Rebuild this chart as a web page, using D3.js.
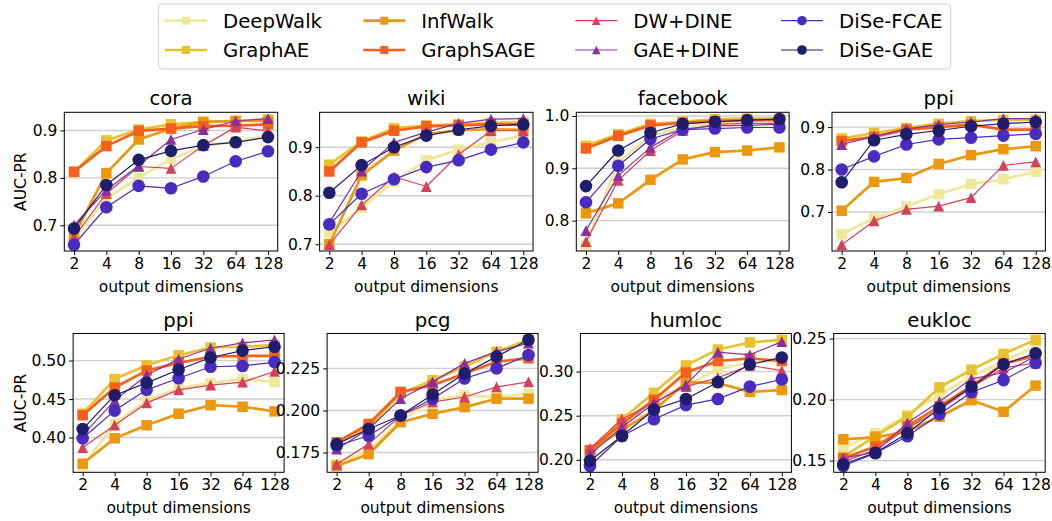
<!DOCTYPE html>
<html><head><meta charset="utf-8">
<script src="https://cdn.jsdelivr.net/npm/d3@7"></script>
<style>
body{margin:0;background:#fff}
svg{display:block;font-family:"DejaVu Sans",sans-serif}
</style>
</head><body>
<svg id="chart" width="1052" height="521"></svg>
<script>
// ---------------- data ----------------
const dims = ["2","4","8","16","32","64","128"];
const methods = ["DeepWalk","GraphAE","InfWalk","GraphSAGE","DW+DINE","GAE+DINE","DiSe-FCAE","DiSe-GAE"];
const titles = ["cora","wiki","facebook","ppi","ppi","pcg","humloc","eukloc"];

// each dataset: one row per method (same order as `methods`), one value per dim
const cora = [
  [0.670,0.757,0.800,0.840,0.867,0.877,0.889],
  [0.812,0.879,0.902,0.913,0.918,0.920,0.923],
  [0.678,0.810,0.881,0.904,0.918,0.920,0.920],
  [0.813,0.867,0.899,0.904,0.909,0.910,0.913],
  [0.675,0.767,0.824,0.820,0.868,0.907,0.899],
  [0.700,0.774,0.826,0.881,0.902,0.920,0.925],
  [0.659,0.738,0.783,0.778,0.803,0.835,0.856],
  [0.693,0.785,0.838,0.857,0.869,0.875,0.886]
];
const wiki = [
  [0.724,0.775,0.829,0.873,0.895,0.910,0.925],
  [0.864,0.912,0.939,0.945,0.947,0.950,0.951],
  [0.700,0.842,0.893,0.927,0.935,0.937,0.936],
  [0.850,0.910,0.934,0.943,0.945,0.947,0.947],
  [0.699,0.781,0.839,0.819,0.885,0.934,0.934],
  [0.744,0.851,0.910,0.931,0.949,0.958,0.959],
  [0.741,0.804,0.834,0.859,0.873,0.895,0.910],
  [0.806,0.863,0.900,0.924,0.936,0.944,0.947]
];
const facebook = [
  [0.754,0.912,0.962,0.978,0.987,0.990,0.992],
  [0.943,0.965,0.985,0.989,0.994,0.995,0.995],
  [0.814,0.833,0.878,0.917,0.931,0.934,0.940],
  [0.938,0.962,0.982,0.987,0.990,0.992,0.992],
  [0.760,0.877,0.934,0.972,0.984,0.986,0.986],
  [0.781,0.886,0.940,0.975,0.981,0.982,0.984],
  [0.835,0.905,0.956,0.974,0.976,0.978,0.978],
  [0.866,0.934,0.968,0.985,0.989,0.992,0.994]
];
const ppi = [
  [0.648,0.685,0.713,0.742,0.766,0.777,0.795],
  [0.873,0.886,0.898,0.908,0.914,0.917,0.917],
  [0.703,0.771,0.780,0.813,0.834,0.848,0.855],
  [0.867,0.877,0.894,0.900,0.906,0.894,0.894],
  [0.623,0.679,0.706,0.714,0.734,0.810,0.818],
  [0.859,0.878,0.896,0.906,0.912,0.920,0.920],
  [0.800,0.831,0.859,0.871,0.875,0.880,0.884],
  [0.770,0.869,0.883,0.892,0.902,0.908,0.912]
];
const ppi2 = [
  [0.363,0.418,0.448,0.464,0.471,0.476,0.472],
  [0.431,0.476,0.494,0.507,0.517,0.518,0.520],
  [0.366,0.399,0.416,0.431,0.442,0.440,0.434],
  [0.429,0.465,0.487,0.497,0.505,0.506,0.506],
  [0.387,0.416,0.445,0.462,0.468,0.472,0.486],
  [0.403,0.448,0.481,0.502,0.516,0.523,0.527],
  [0.399,0.435,0.462,0.477,0.492,0.493,0.498],
  [0.411,0.455,0.471,0.488,0.504,0.513,0.518]
];
const pcg = [
  [0.168,0.176,0.194,0.206,0.209,0.208,0.210],
  [0.181,0.190,0.210,0.218,0.226,0.235,0.242],
  [0.167,0.174,0.193,0.198,0.202,0.207,0.207],
  [0.181,0.192,0.211,0.215,0.222,0.229,0.231],
  [0.168,0.180,0.197,0.205,0.208,0.214,0.217],
  [0.177,0.189,0.207,0.217,0.228,0.235,0.240],
  [0.179,0.185,0.197,0.207,0.219,0.225,0.233],
  [0.180,0.189,0.197,0.2095,0.222,0.232,0.242]
];
const humloc = [
  [0.207,0.239,0.269,0.284,0.303,0.310,0.313],
  [0.210,0.246,0.276,0.307,0.325,0.333,0.336],
  [0.210,0.234,0.256,0.288,0.287,0.277,0.279],
  [0.211,0.241,0.268,0.299,0.312,0.315,0.312],
  [0.213,0.246,0.265,0.283,0.293,0.307,0.301],
  [0.206,0.237,0.264,0.285,0.322,0.319,0.334],
  [0.193,0.227,0.246,0.262,0.269,0.283,0.291],
  [0.199,0.227,0.257,0.269,0.288,0.308,0.316]
];
const eukloc = [
  [0.1605,0.1725,0.1875,0.204,0.219,0.2315,0.2435],
  [0.153,0.170,0.186,0.210,0.2245,0.2375,0.249],
  [0.1675,0.169,0.174,0.186,0.1995,0.190,0.2115],
  [0.152,0.1615,0.178,0.1945,0.211,0.2295,0.236],
  [0.149,0.159,0.1765,0.1915,0.210,0.226,0.230],
  [0.152,0.157,0.181,0.1985,0.217,0.222,0.2355],
  [0.1456,0.156,0.170,0.188,0.206,0.216,0.230],
  [0.147,0.1565,0.1725,0.193,0.2105,0.229,0.238]
];
const datasets = [cora, wiki, facebook, ppi, ppi2, pcg, humloc, eukloc];

// y tick values per panel
const yTicksCora = [0.7,0.8,0.9];
const yTicksWiki = [0.7,0.8,0.9];
const yTicksFacebook = [0.8,0.9,1.0];
const yTicksPpi = [0.7,0.8,0.9];
const yTicksPpi2 = [0.40,0.45,0.50];
const yTicksPcg = [0.175,0.200,0.225];
const yTicksHumloc = [0.20,0.25,0.30];
const yTicksEukloc = [0.15,0.20,0.25];
const yTicks = [yTicksCora,yTicksWiki,yTicksFacebook,yTicksPpi,yTicksPpi2,yTicksPcg,yTicksHumloc,yTicksEukloc];
const yFormats = [".1f",".1f",".1f",".1f",".2f",".3f",".2f",".2f"];

// ---------------- style / layout ----------------
const colors = ["#eee89a","#e8c131","#eb980f","#f6601c","#d7405b","#8a2f9c","#4a2bbf","#1f1d6d"];
const shapes = ["square","square","square","square","triangle","triangle","circle","circle"];
const lineW = [2.7,2.7,2.7,2.7,1.2,1.2,1.2,1.2];

const panels = [
  {l:64.3, t:112.3, w:213.4, h:138.7},
  {l:319.6,t:112.3, w:213.4, h:138.7},
  {l:576.3,t:112.3, w:212.8, h:138.7},
  {l:832.0,t:112.3, w:213.4, h:138.7},
  {l:73.1, t:333.5, w:211.0, h:138.8},
  {l:327.1,t:333.5, w:211.0, h:138.8},
  {l:580.4,t:333.5, w:211.0, h:138.8},
  {l:833.7,t:333.5, w:211.5, h:138.8}
];
const FS = 15.5;

const svg = d3.select("#chart");

function markerPath(shape, s) {
  if (shape === "square") return `M${-s/2},${-s/2}h${s}v${s}h${-s}Z`;
  if (shape === "triangle") return `M0,${-s}L${s},${s}L${-s},${s}Z`;
  return d3.symbol(d3.symbolCircle, Math.PI*s*s)();
}
const mSize = {square:10.5, triangle:5.4, circle:6.3};
const lSize = {square:8, triangle:4.3, circle:4.8};

panels.forEach((p, k) => {
  const data = datasets[k];
  const all = data.flat();
  const mn = d3.min(all), mx = d3.max(all), pad = (mx - mn) * 0.05;
  const x = d3.scalePoint().domain(dims).range([p.l, p.l + p.w]).padding(0.3);
  const y = d3.scaleLinear().domain([mn - pad, mx + pad]).range([p.t + p.h, p.t]);
  const g = svg.append("g");

  // grid
  g.selectAll(".grid").data(yTicks[k]).join("line")
    .attr("x1", p.l).attr("x2", p.l + p.w)
    .attr("y1", d => y(d)).attr("y2", d => y(d))
    .attr("stroke", "#cfcfcf").attr("stroke-width", 1.4);

  const clipId = "clip" + k;
  svg.append("clipPath").attr("id", clipId).append("rect")
    .attr("x", p.l - 10).attr("y", p.t).attr("width", p.w + 20).attr("height", p.h);

  const line = d3.line().x((d, i) => x(dims[i])).y(d => y(d));
  const sg = g.append("g");
  data.forEach((vals, m) => {
    const s = sg.append("g");
    s.append("path").attr("d", line(vals)).attr("fill", "none")
      .attr("stroke", colors[m]).attr("stroke-width", lineW[m]).attr("stroke-linejoin", "round");
    s.selectAll("path.mk").data(vals).join("path").attr("class", "mk")
      .attr("transform", (d, i) => `translate(${x(dims[i])},${y(d)})`)
      .attr("d", markerPath(shapes[m], mSize[shapes[m]]))
      .attr("fill", colors[m]);
  });

  // frame
  g.append("rect").attr("x", p.l).attr("y", p.t).attr("width", p.w).attr("height", p.h)
    .attr("fill", "none").attr("stroke", "#000").attr("stroke-width", 1);

  // axes
  const ax = g.append("g").attr("transform", `translate(0,${p.t + p.h})`)
    .call(d3.axisBottom(x).tickSize(4).tickPadding(3));
  ax.select(".domain").remove();
  ax.selectAll("text").attr("font-size", FS).attr("fill", "#000").attr("font-family", "DejaVu Sans");
  const ay = g.append("g").attr("transform", `translate(${p.l},0)`)
    .call(d3.axisLeft(y).tickValues(yTicks[k]).tickFormat(d3.format(yFormats[k])).tickSize(4).tickPadding(3));
  ay.select(".domain").remove();
  ay.selectAll("text").attr("font-size", FS).attr("fill", "#000").attr("font-family", "DejaVu Sans");

  // title
  g.append("text").attr("x", p.l + p.w / 2).attr("y", p.t - 7)
    .attr("text-anchor", "middle").attr("font-size", 19.7).text(titles[k]);
  // x label
  g.append("text").attr("x", p.l + p.w / 2).attr("y", p.t + p.h + 40.5)
    .attr("text-anchor", "middle").attr("font-size", FS).text("output dimensions");
  // y label
  if (k % 4 === 0) {
    g.append("text").attr("transform", `translate(26,${p.t + p.h / 2}) rotate(-90)`)
      .attr("text-anchor", "middle").attr("font-size", FS).text("AUC-PR");
  }
});

// ---------------- legend ----------------
const lg = svg.append("g");
lg.append("rect").attr("x", 158.3).attr("y", 4).attr("width", 792.4).attr("height", 65)
  .attr("rx", 4).attr("fill", "#fff").attr("fill-opacity", 0.8)
  .attr("stroke", "#d0d0d0").attr("stroke-width", 1);
const colX = [165, 363.3, 575.3, 781];
const rowY = [20.7, 50];
methods.forEach((name, m) => {
  const cx = colX[Math.floor(m / 2)], cy = rowY[m % 2];
  lg.append("line").attr("x1", cx).attr("x2", cx + 42).attr("y1", cy).attr("y2", cy)
    .attr("stroke", colors[m]).attr("stroke-width", lineW[m]);
  lg.append("path").attr("transform", `translate(${cx + 21},${cy})`)
    .attr("d", markerPath(shapes[m], lSize[shapes[m]])).attr("fill", colors[m]);
  lg.append("text").attr("x", cx + 58).attr("y", cy).attr("dy", "0.36em")
    .attr("font-size", 19.7).text(name);
});
</script>
</body></html>
